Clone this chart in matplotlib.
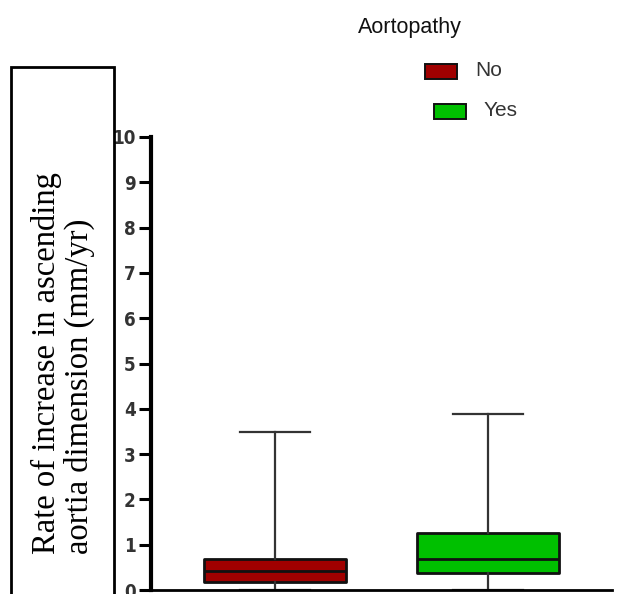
"""Box plot: rate of increase in ascending aortic dimension by aortopathy."""

import matplotlib
matplotlib.use("Agg")
import matplotlib.pyplot as plt  # noqa: E402
from matplotlib.patches import Rectangle  # noqa: E402

GROUPS = ["No", "Yes"]
COLORS = ["#a00000", "#00c000"]
WHISK_LO = [0.0, 0.0]
Q1 = [0.18, 0.37]
MEDIAN = [0.42, 0.68]
Q3 = [0.68, 1.25]
WHISK_HI = [3.48, 3.88]
YTICKS = list(range(0, 11))

W, H = 626, 594
fig = plt.figure(figsize=(W / 100, H / 100), dpi=100)

# axes in pixel terms: y-spine at x=151, 0 at y=590, 10 at y=137
ax = fig.add_axes([151 / W, 4 / H, (612 - 151) / W, (590 - 137) / H])

stats = [dict(label=g, whislo=lo, q1=a, med=m, q3=b, whishi=hi, fliers=[])
         for g, lo, a, m, b, hi in zip(GROUPS, WHISK_LO, Q1, MEDIAN, Q3, WHISK_HI)]
bp = ax.bxp(stats, positions=[1, 2], widths=0.667, patch_artist=True,
            showfliers=False,
            boxprops=dict(linewidth=2, edgecolor="#111111", joinstyle="round"),
            medianprops=dict(color="#111111", linewidth=2),
            whiskerprops=dict(color="#333333", linewidth=1.6),
            capprops=dict(color="#333333", linewidth=1.6),
            capwidths=0.333)
for patch, c in zip(bp["boxes"], COLORS):
    patch.set_facecolor(c)

ax.set_xlim(0.418, 2.582)
ax.set_ylim(0, 10)
ax.set_yticks(YTICKS)
ax.set_xticks([])
for s in ("top", "right"):
    ax.spines[s].set_visible(False)
ax.spines["left"].set_linewidth(3)
ax.spines["bottom"].set_linewidth(2)
ax.tick_params(axis="y", length=9, width=2.2, pad=2)
for lab in ax.get_yticklabels():
    lab.set_family("DejaVu Sans")
    lab.set_fontstretch("condensed")
    lab.set_fontweight("bold")
    lab.set_fontsize(13.5)
    lab.set_color("#333333")

# boxed y-label on the left
fig.patches.append(Rectangle((11 / W, -0.05), (114 - 11) / W, 1 - 67 / H + 0.05,
                             transform=fig.transFigure, fill=False,
                             edgecolor="black", linewidth=2))
fig.text(63 / W, 1 - 554 / H, "Rate of increase in ascending\naortia dimension (mm/yr)",
         rotation=90, ha="center", va="bottom", multialignment="left",
         family="Liberation Serif", fontsize=23.5, linespacing=1.1)

# legend
fig.text(410 / W, 1 - 28 / H, "Aortopathy", ha="center", va="center",
         family="Liberation Sans", fontsize=15.5, color="#111111")
leg_pos = [(425, 71), (434, 111)]
for (px, py), g, c in zip(leg_pos, GROUPS, COLORS):
    fig.patches.append(Rectangle((px / W, 1 - (py + 8) / H), 32 / W, 15 / H,
                                 transform=fig.transFigure, facecolor=c,
                                 edgecolor="#111111", linewidth=1.4))
    fig.text((px + 50) / W, 1 - py / H, g, ha="left", va="center",
             family="Liberation Sans", fontsize=15, color="#333333")

fig.savefig("out.png", dpi=100)
